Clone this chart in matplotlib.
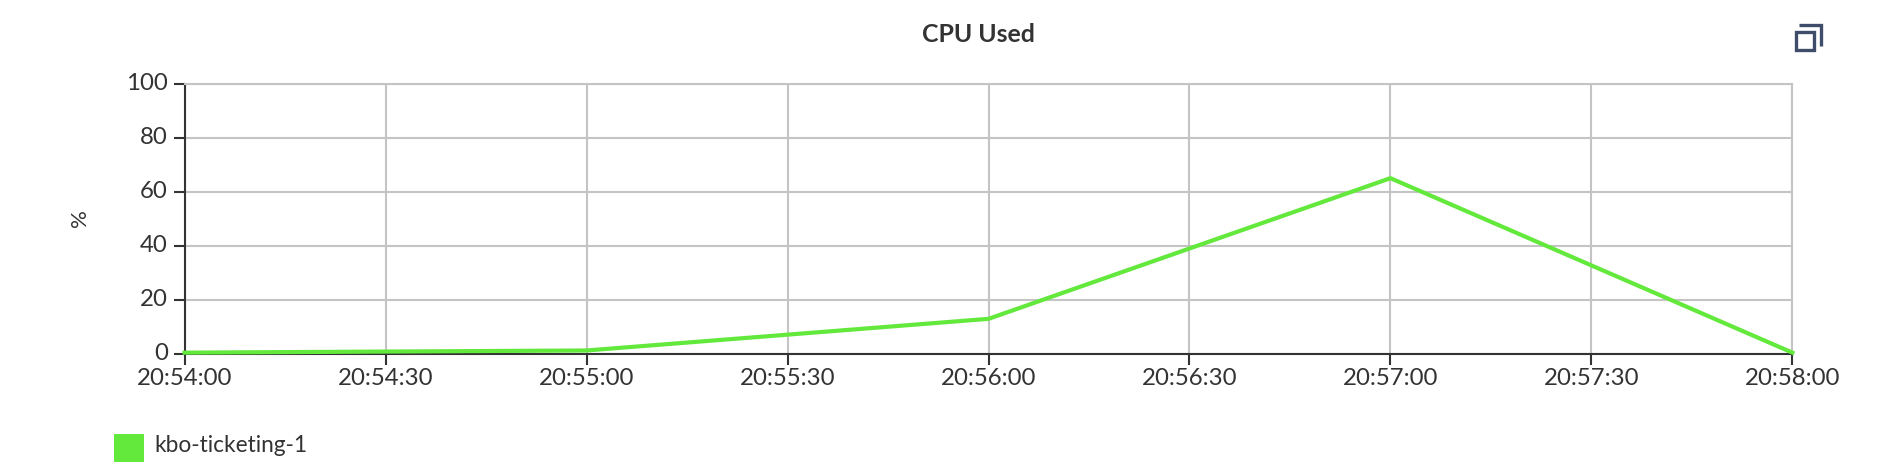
import matplotlib
matplotlib.use("Agg")
import matplotlib.pyplot as plt
from matplotlib.lines import Line2D
from matplotlib.patches import Rectangle

plt.rcParams['font.family'] = ['Lato', 'DejaVu Sans']

title = "CPU Used"
y_label = "%"
series_name = "kbo-ticketing-1"
seconds = [0, 60, 120, 180, 240]
cpu_used = [0.5, 1.3, 13, 65, 0.5]
x_ticks = [0, 30, 60, 90, 120, 150, 180, 210, 240]
x_tick_labels = ["20:54:00", "20:54:30", "20:55:00", "20:55:30", "20:56:00",
                 "20:56:30", "20:57:00", "20:57:30", "20:58:00"]
y_ticks = [0, 20, 40, 60, 80, 100]

W, H = 1884, 476
GREEN = "#63e83c"
DARK = "#333333"
GRID = "#c4c4c4"
ICON = "#3f4d6b"

fig = plt.figure(figsize=(W / 100, H / 100), dpi=100, facecolor="white")
L, R, T, B = 184.6, 1792.4, 83.5, 354
ax = fig.add_axes([L / W, 1 - B / H, (R - L) / W, (B - T) / H])
ax.plot(seconds, cpu_used, color=GREEN, lw=3, solid_joinstyle="miter", clip_on=False, zorder=5)
ax.set_xlim(0, 240)
ax.set_ylim(0, 100)
ax.set_xticks(x_ticks)
ax.set_xticklabels(x_tick_labels)
ax.set_yticks(y_ticks)
ax.grid(True, color=GRID, lw=1.5)
ax.set_axisbelow(True)
for s in ("top", "right"):
    ax.spines[s].set_color(GRID)
    ax.spines[s].set_linewidth(1.5)
for s in ("left", "bottom"):
    ax.spines[s].set_color(DARK)
    ax.spines[s].set_linewidth(1.5)
ax.tick_params(axis="both", colors=DARK, length=8, width=1.5, labelsize=17.3, pad=3)
ax.tick_params(axis="x", pad=2)
ax.tick_params(axis="y", pad=4)
for lab in ax.get_yticklabels():
    lab.set_verticalalignment("center")
    lab.set_y(lab.get_position()[1])

fig.text(978 / W, 1 - 34 / H, title, ha="center", va="center", fontsize=17.9,
         fontweight="bold", color=DARK)
fig.text(80 / W, 1 - 218 / H, y_label, rotation=90, ha="center", va="center",
         fontsize=16, color=DARK)
fig.add_artist(Rectangle((114 / W, 1 - 462 / H), 30 / W, 28 / H, transform=fig.transFigure,
                         facecolor=GREEN, edgecolor="none"))
fig.text(154 / W, 1 - 445.5 / H, series_name, ha="left", va="center", fontsize=16.3, color=DARK)


def px(x, y):
    return x / W, 1 - y / H


fig.add_artist(Rectangle(px(1795.5, 49.5), 18 / W, 18 / H, transform=fig.transFigure,
                         facecolor="none", edgecolor=ICON, lw=2.4))
xs, ys = zip(px(1799, 24.5), px(1820.5, 24.5), px(1820.5, 46))
fig.add_artist(Line2D(xs, ys, transform=fig.transFigure, color=ICON, lw=2.4,
                      solid_joinstyle="miter", solid_capstyle="butt"))

fig.savefig("out.png", dpi=100)
